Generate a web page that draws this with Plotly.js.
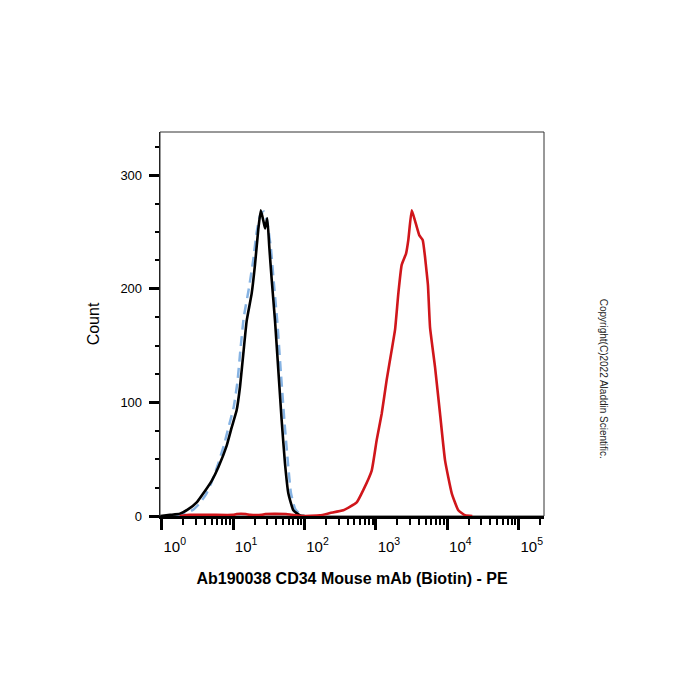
<!DOCTYPE html>
<html>
<head>
<meta charset="utf-8">
<script src="https://cdn.plot.ly/plotly-3.0.1.min.js"></script>
<style>html,body{margin:0;padding:0;background:#fff;}#chart{width:700px;height:700px;}</style>
</head>
<body>
<div id="chart"></div>
<script>
// ---- data ----
const xTickVals = [1, 10, 100, 1000, 10000, 100000];
const xTickText = ['10<sup>0</sup>', '10<sup>1</sup>', '10<sup>2</sup>', '10<sup>3</sup>', '10<sup>4</sup>', '10<sup>5</sup>'];
const minorDigits = [2, 3, 4, 5, 6, 7, 8, 9];
const yTickVals = [0, 100, 200, 300];

// isotype / unstained control (blue dashed)
const blueX = [1.58, 2.14, 2.82, 3.39, 4.17, 5.01, 6.03, 7.41, 8.71, 10.2, 11.5, 12.6, 14.1, 16.6, 19.1, 21.4, 24.0, 26.9, 30.2, 33.9, 37.2, 41.7, 46.8, 52.5, 58.9, 64.6, 74.1, 89.1, 100];
const blueY = [0, 2, 6, 11, 19, 30, 44, 62, 79, 96, 118, 145, 175, 200, 225, 250, 265, 268, 258, 235, 205, 170, 125, 82, 45, 20, 6, 1, 0];

// negative control (black)
const blackX = [0.96, 1.31, 1.80, 2.36, 3.09, 3.83, 5.01, 6.21, 8.13, 9.55, 11.2, 12.5, 13.9, 15.5, 18.2, 20.3, 22.5, 24.4, 26.5, 28.0, 30.1, 32.1, 34.7, 38.6, 43.0, 47.9, 53.3, 59.3, 69.7, 86.5, 100];
const blackY = [0, 1, 2, 6, 12, 20, 31, 43, 62, 78, 93, 114, 143, 172, 196, 222, 252, 269, 260, 253, 262, 237, 208, 172, 128, 84, 46, 20, 5, 0.5, 0];

// CD34 stained (red)
const redX = [1.78, 2.5, 5, 10, 11.2, 15.1, 17.4, 25.1, 28.2, 55, 66, 90, 165, 228, 349, 538, 667, 873, 1026, 1205, 1416, 1663, 1854, 2061, 2296, 2642, 2844, 3170, 3524, 4055, 4519, 4875, 5105, 5358, 5728, 6730, 7907, 9290, 11535, 14256, 17701, 22400];
const redY = [0, 1, 1, 1, 1.8, 1.8, 1, 1, 1.8, 1.8, 1, 0, 0.6, 2.6, 5, 12, 23, 40, 67, 90, 120, 146, 164, 196, 221, 231, 243, 269, 260, 247, 243, 228, 216, 203, 166, 131, 90, 49, 20, 5, 0.6, 0];

const xTitle = 'Ab190038 CD34 Mouse mAb (Biotin) - PE';
const yTitle = 'Count';
const copyright = 'Copyright(C)2022 Aladdin Scientific.';

// minor tick positions on the log axis
const minorVals = [];
xTickVals.forEach(function (d) { minorDigits.forEach(function (m) { minorVals.push(d * m); }); });

const font = 'Liberation Sans, Arial, sans-serif';

const traces = [
  {x: blueX, y: blueY, type: 'scatter', mode: 'lines', line: {color: '#86b3e3', width: 2.5, dash: '10px,6px', shape: 'spline', smoothing: 0.4}, hoverinfo: 'skip'},
  {x: blackX, y: blackY, type: 'scatter', mode: 'lines', line: {color: '#000000', width: 2.6, shape: 'spline', smoothing: 0.4}, hoverinfo: 'skip'},
  {x: redX, y: redY, type: 'scatter', mode: 'lines', line: {color: '#d0161b', width: 2.6, shape: 'spline', smoothing: 0.4}, hoverinfo: 'skip'}
];

const layout = {
  width: 700, height: 700,
  margin: {l: 160, r: 156, t: 132, b: 184, pad: 0},
  paper_bgcolor: '#ffffff', plot_bgcolor: '#ffffff',
  showlegend: false,
  font: {family: font, color: '#000'},
  xaxis: {
    type: 'log', range: [-0.024, 5.354], autorange: false,
    showgrid: false, zeroline: false,
    showline: true, linecolor: '#000', linewidth: 2.5,
    layer: 'above traces',
    tickmode: 'array', tickvals: xTickVals, ticktext: xTickText,
    ticks: 'outside', ticklen: 11, tickwidth: 3, tickcolor: '#000',
    ticklabelshift: 13, ticklabelstandoff: 4,
    tickfont: {family: font, size: 15, color: '#000'},
    minor: {tickmode: 'array', tickvals: minorVals, ticks: 'outside', ticklen: 6, tickwidth: 2, tickcolor: '#000', showgrid: false},
    title: {text: '<b>' + xTitle + '</b>', font: {family: font, size: 16, color: '#000'}, standoff: 20}
  },
  yaxis: {
    range: [0, 338], autorange: false,
    showgrid: false, zeroline: false,
    showline: true, linecolor: '#222', linewidth: 1.3,
    tickmode: 'array', tickvals: yTickVals,
    ticks: 'outside', ticklen: 10, tickwidth: 3, tickcolor: '#000',
    ticklabelstandoff: 4,
    tickfont: {family: font, size: 13, color: '#000'},
    minor: {dtick: 25, ticks: 'outside', ticklen: 4, tickwidth: 2, tickcolor: '#000', showgrid: false},
    title: {text: yTitle, font: {family: font, size: 16, color: '#000'}, standoff: 16}
  },
  shapes: [
    {type: 'rect', xref: 'paper', yref: 'paper', x0: 0, x1: 1, y0: 0, y1: 1, line: {color: '#333', width: 1}, fillcolor: 'rgba(0,0,0,0)', layer: 'below'}
  ],
  annotations: [
    {text: copyright, xref: 'paper', yref: 'paper', x: 1.154, y: 0.357, xanchor: 'center', yanchor: 'middle', textangle: 90, showarrow: false, font: {family: font, size: 10, color: '#222'}}
  ]
};

Plotly.newPlot('chart', traces, layout, {staticPlot: true, displayModeBar: false});
</script>
</body>
</html>
